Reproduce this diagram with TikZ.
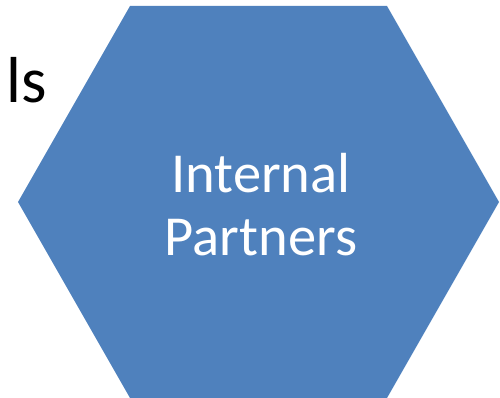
\documentclass[tikz,border=0pt]{standalone}
\usepackage{fontspec}
\setmainfont{Carlito}
\definecolor{hexblue}{RGB}{79,129,189}

\begin{document}
\begin{tikzpicture}[x=1pt, y=-1pt]
        % Page frame
        \useasboundingbox (0,0) rectangle (500,398);

        % Hexagon
        \fill[hexblue] (130,6) -- (387,6) -- (499,202) -- (387,398) -- (130,398) -- (18,202) -- cycle;
        \node[text=white, align=center, font=\fontsize{56.5}{63}\selectfont] (partners) at (261,205) {Internal\\Partners};

        % Cut-off label on the left
        \node[anchor=base west, inner sep=0pt, font=\fontsize{65}{70}\selectfont] (tail) at (6,103) {ls};
    \end{tikzpicture}
\end{document}
